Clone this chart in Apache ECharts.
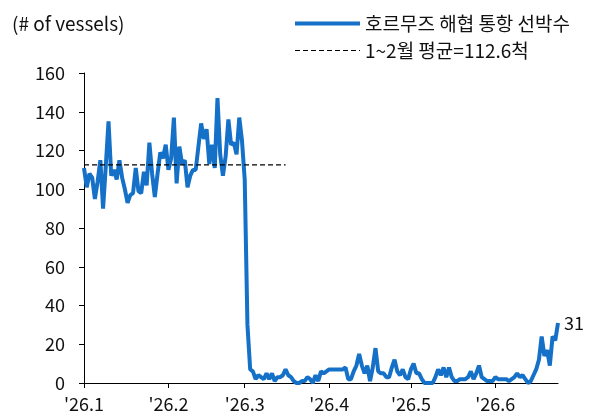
<!DOCTYPE html>
<html>
<head>
<meta charset="utf-8">
<script src="https://cdn.jsdelivr.net/npm/echarts@6/dist/echarts.min.js"></script>
<style>
html,body{margin:0;padding:0;background:#fff;}
#chart{width:589px;height:418px;}
</style>
</head>
<body>
<div id="chart"></div>
<script>
// Daily vessel counts through the Strait of Hormuz, Jan 1 2026 - Jun 24 2026
var startDate = '2026-01-01';
var janValues = [111,101,108,106,95,104,115,90,112,135,107,110,105,115,106,100,93,97,98,111,99,98,109,102,124,108,96,108,119,116,123];
var febValues = [110,116,137,103,122,113,115,101,107,110,110,122,134,126,131,113,123,111,147,118,107,117,136,123,124,118,137,125];
var marValues = [105,30,7,6,2,4,3,2,5,2,5,1,3,3,4,7,4,3,1,0,0,1,1,3,2,0,4,1,6,5,6];
var aprValues = [7,7,7,7,7,7,8,2,2,6,9,15,9,5,9,1,8,18,6,5,5,3,3,8,12,6,4,7,3,2];
var mayValues = [7,10,5,5,2,0,0,0,0,3,7,4,8,3,8,3,1,1,2,2,2,3,6,2,5,9,3,2,1,1,1];
var junValues = [3,2,2,2,2,1,2,3,5,3,4,2,0,1,4,7,12,24,14,17,9,24,22,31];
var avgValue = 112.6;
var avgLastIndex = 74;
var yTicks = [0,20,40,60,80,100,120,140,160];
var seriesName = '호르무즈 해협 통항 선박수';
var avgName = '1~2월 평균=112.6척';

var values = [].concat(janValues, febValues, marValues, aprValues, mayValues, junValues);
var dates = [];
var d0 = new Date(startDate + 'T00:00:00Z');
for (var i = 0; i < values.length; i++) {
  var d = new Date(d0.getTime() + i * 86400000);
  dates.push(d.toISOString().slice(0, 10));
}
var avgSeries = values.map(function (v, i) { return i <= avgLastIndex ? avgValue : null; });
function isMonthStart(idx, val) { return val.slice(8, 10) === '01'; }

var font = "'Noto Sans CJK KR', 'Noto Sans', sans-serif";
var blue = '#1570c8';
var chart = echarts.init(document.getElementById('chart'), null, {renderer: 'canvas'});
chart.setOption({
  animation: false,
  textStyle: {fontFamily: font},
  title: {
    text: '(# of vessels)', left: 12, top: 14, padding: 0,
    textStyle: {fontSize: 19, fontWeight: 'normal', color: '#111', fontFamily: font}
  },
  legend: {
    orient: 'vertical', left: 293, top: 14, padding: 0,
    itemWidth: 65, itemHeight: 14, itemGap: 8,
    itemStyle: {color: 'rgba(0,0,0,0)', borderWidth: 0, opacity: 0},
    textStyle: {fontSize: 19, color: '#111', fontFamily: font},
    data: [
      {name: seriesName, lineStyle: {width: 4, color: blue}},
      {name: avgName, lineStyle: {width: 1.2, color: '#000', type: [5, 3]}}
    ]
  },
  grid: {left: 84, right: 31, top: 73, bottom: 35, containLabel: false},
  xAxis: {
    type: 'category', data: dates, boundaryGap: false,
    axisLine: {lineStyle: {color: '#000', width: 1}},
    axisTick: {interval: isMonthStart, length: 5, lineStyle: {color: '#000'}},
    axisLabel: {
      interval: isMonthStart, fontSize: 18, color: '#111', margin: 12, fontFamily: font,
      formatter: function (v) { return "'" + v.slice(2, 4) + '.' + parseInt(v.slice(5, 7), 10); }
    },
    splitLine: {show: false}
  },
  yAxis: {
    type: 'value', min: yTicks[0], max: yTicks[yTicks.length - 1], interval: 20,
    axisLine: {show: true, lineStyle: {color: '#000', width: 1}},
    axisTick: {show: true, length: 5, lineStyle: {color: '#000'}},
    axisLabel: {fontSize: 18, color: '#111', margin: 19, fontFamily: font},
    splitLine: {show: false}
  },
  series: [
    {
      name: seriesName, type: 'line', data: values, symbol: 'none',
      lineStyle: {color: blue, width: 4},
      itemStyle: {color: blue},
      endLabel: {show: true, formatter: function (p) { return p.value; }, fontSize: 18, color: '#111', distance: 6, fontFamily: font}
    },
    {
      name: avgName, type: 'line', data: avgSeries, symbol: 'none',
      lineStyle: {color: '#000', width: 1.2, type: [5, 3]},
      itemStyle: {color: '#000'}
    }
  ]
});
</script>
</body>
</html>
